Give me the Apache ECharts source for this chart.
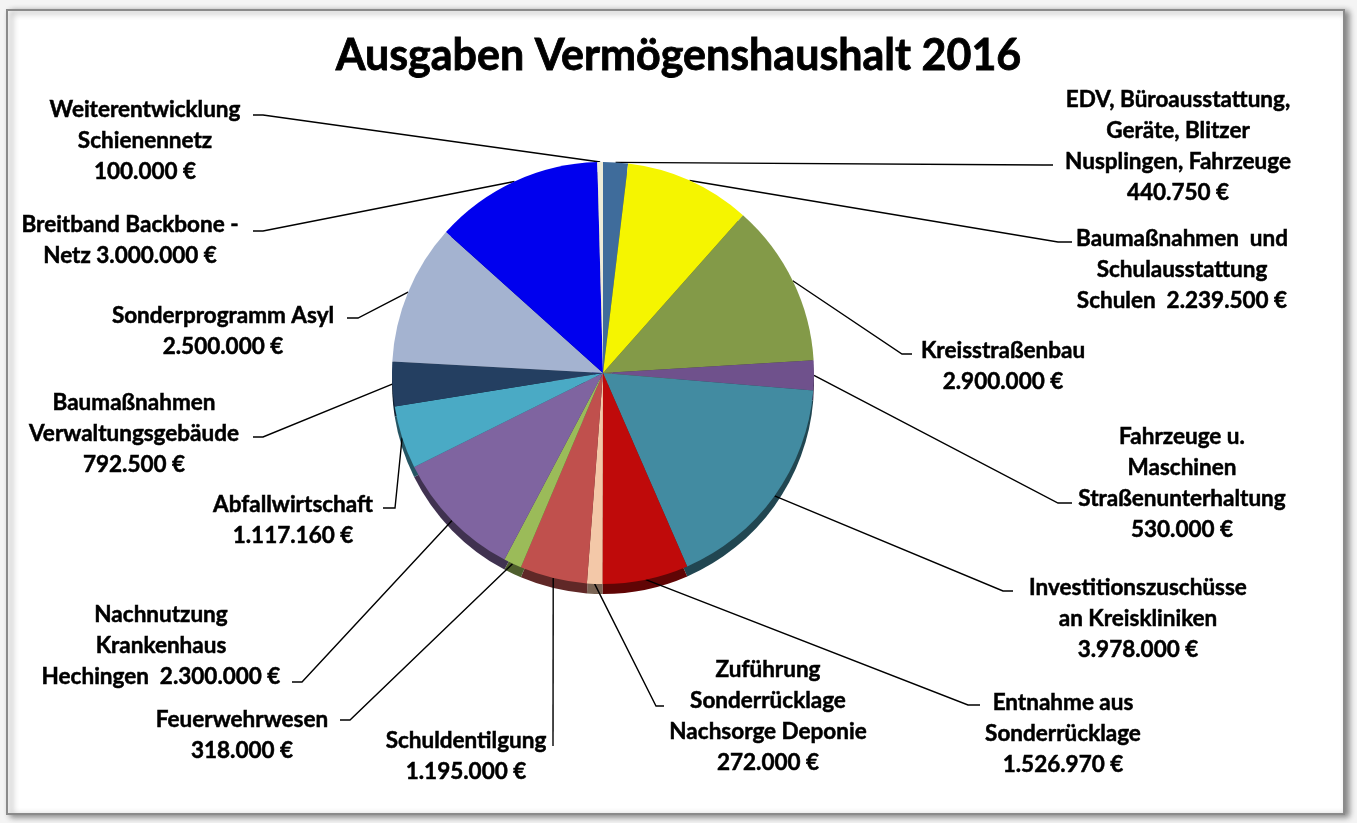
<!DOCTYPE html>
<html>
<head>
<meta charset="utf-8">
<title>Ausgaben Vermögenshaushalt 2016</title>
<script src="https://cdn.jsdelivr.net/npm/echarts@6/dist/echarts.min.js"></script>
<style>
  html, body { margin: 0; padding: 0; background: #f4f4f4; }
  #chart { width: 1357px; height: 823px; }
</style>
</head>
<body>
<div id="chart"></div>
<script>
// Spending categories, clockwise from twelve o'clock
const categories = [
  'EDV, Büroausstattung,\nGeräte, Blitzer\nNusplingen, Fahrzeuge',
  'Baumaßnahmen  und\nSchulausstattung\nSchulen',
  'Kreisstraßenbau',
  'Fahrzeuge u.\nMaschinen\nStraßenunterhaltung',
  'Investitionszuschüsse\nan Kreiskliniken',
  'Entnahme aus\nSonderrücklage',
  'Zuführung\nSonderrücklage\nNachsorge Deponie',
  'Schuldentilgung',
  'Feuerwehrwesen',
  'Nachnutzung\nKrankenhaus\nHechingen',
  'Abfallwirtschaft',
  'Baumaßnahmen\nVerwaltungsgebäude',
  'Sonderprogramm Asyl',
  'Breitband Backbone -\nNetz',
  'Weiterentwicklung\nSchienennetz'
];

// Amounts in euro
const amounts = [
  440750, 2239500, 2900000, 530000, 3978000, 1526970, 272000,
  1195000, 318000, 2300000, 1117160, 792500, 2500000, 3000000, 100000
];

// How the amount follows the name in each label
const amountSeparators = [
  '\n', '  ', '\n', '\n', '\n', '\n', '\n',
  '\n', '\n', '  ', '\n', '\n', '\n', ' ', '\n'
];

const sliceColors = [
  '#3f6c9b', '#f5f500', '#839a48', '#6f518c', '#428ba1', '#bf0a0a', '#f3c8a8',
  '#c0504d', '#9bbb59', '#7f64a0', '#4aaac5', '#243f61', '#a4b3d0', '#0000ee', '#eeecd8'
];

// Label placement: [centre x, first line centre y, elbow x, elbow y, join x, join y]
const labelSpots = [
  [1178, 100, 1043, 165, 1053, 165],
  [1182, 239, 1058, 242, 1072, 242],
  [1003, 351,  902, 354,  912, 354],
  [1182, 437, 1058, 503, 1072, 503],
  [1138, 588, 1003, 591, 1013, 591],
  [1063, 703,  968, 705,  980, 705],
  [ 768, 670,  656, 706,  664, 706],
  [ 466, 741,  553, 746,  553, 746],
  [ 242, 720,  350, 720,  340, 720],
  [ 161, 615,  302, 682,  292, 682],
  [ 293, 505,  395, 508,  383, 508],
  [ 134, 403,  263, 437,  253, 437],
  [ 223, 316,  358, 318,  347, 318],
  [ 130, 225,  263, 231,  253, 231],
  [ 145, 110,  263, 115,  253, 115]
];

const LINE_H = 31;
const FONT = 'Lato, "Open Sans", sans-serif';
const PIE_CENTER = [603, 373];
const PIE_RADIUS = 211;
const EDGE_DEPTH = 10;

function euro(v) {
  return String(v).replace(/\B(?=(\d{3})+(?!\d))/g, '.') + ' €';
}

function darken(hex, f) {
  const n = parseInt(hex.slice(1), 16);
  const r = Math.round(((n >> 16) & 255) * f);
  const g = Math.round(((n >> 8) & 255) * f);
  const b = Math.round((n & 255) * f);
  return 'rgb(' + r + ',' + g + ',' + b + ')';
}

const faceData = categories.map((name, i) => ({
  name: name,
  value: amounts[i],
  itemStyle: { color: sliceColors[i] }
}));

const edgeData = categories.map((name, i) => ({
  name: name,
  value: amounts[i],
  itemStyle: { color: darken(sliceColors[i], 0.5) }
}));

const chart = echarts.init(document.getElementById('chart'), null, { renderer: 'canvas' });

chart.setOption({
  animation: false,
  backgroundColor: '#f4f4f4',
  title: {
    text: 'Ausgaben Vermögenshaushalt 2016',
    left: 'center',
    top: 30,
    textStyle: {
      fontFamily: FONT, fontSize: 43, fontWeight: 'bold', color: '#000',
      textBorderColor: '#000', textBorderWidth: 0.8
    }
  },
  graphic: [{
    type: 'rect',
    z: -10,
    shape: { x: 7, y: 10, width: 1337, height: 804 },
    style: {
      fill: '#ffffff',
      stroke: '#8a8a8a',
      lineWidth: 2,
      shadowBlur: 6,
      shadowOffsetX: 4,
      shadowOffsetY: 2,
      shadowColor: 'rgba(0,0,0,0.45)'
    },
    silent: true
  }],
  series: [
    {
      // side wall of the tilted pie
      type: 'pie',
      silent: true,
      z: 1,
      center: [PIE_CENTER[0], PIE_CENTER[1] + EDGE_DEPTH],
      radius: PIE_RADIUS,
      startAngle: 90,
      clockwise: true,
      label: { show: false },
      labelLine: { show: false },
      itemStyle: { borderWidth: 0 },
      data: edgeData
    },
    {
      type: 'pie',
      z: 2,
      center: PIE_CENTER,
      radius: PIE_RADIUS,
      startAngle: 90,
      clockwise: true,
      avoidLabelOverlap: false,
      itemStyle: { borderWidth: 0 },
      emphasis: { disabled: true },
      label: {
        show: true,
        position: 'outside',
        fontFamily: FONT,
        fontSize: 22.5,
        fontWeight: 'bold',
        color: '#000',
        textBorderColor: '#000',
        textBorderWidth: 0.5,
        lineHeight: LINE_H,
        formatter: p => p.name + amountSeparators[p.dataIndex] + euro(p.value)
      },
      labelLine: {
        show: true,
        length: 10,
        length2: 10,
        lineStyle: { color: '#000', width: 1.4 }
      },
      labelLayout: function (params) {
        const s = labelSpots[params.dataIndex];
        const start = params.labelLinePoints ? params.labelLinePoints[0] : [s[2], s[3]];
        return {
          x: s[0],
          y: s[1] - LINE_H / 2,
          align: 'center',
          verticalAlign: 'top',
          labelLinePoints: [start, [s[2], s[3]], [s[4], s[5]]]
        };
      },
      data: faceData
    }
  ]
});
</script>
</body>
</html>
